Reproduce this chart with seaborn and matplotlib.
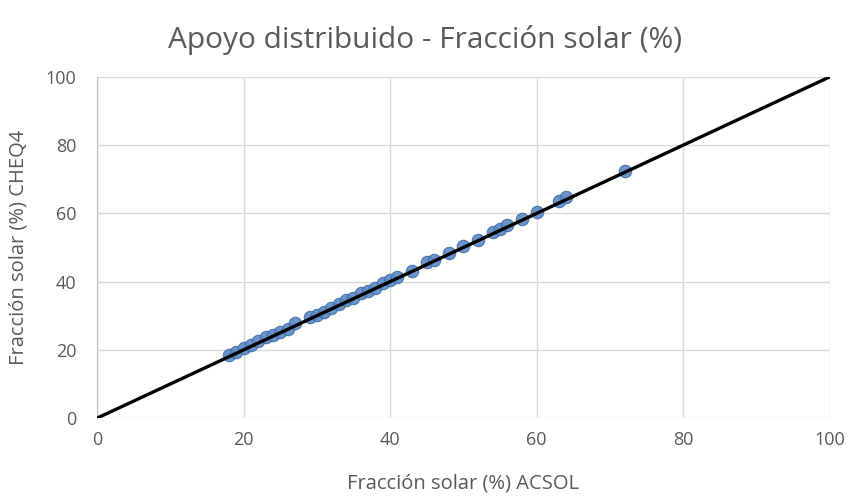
import numpy as np
import pandas as pd
import seaborn as sns
import matplotlib.pyplot as plt

# values
acsol = [18, 19, 20, 21, 22, 23, 24, 25, 26, 27, 29, 30, 31, 32, 33, 34, 35,
         36, 37, 38, 39, 40, 41, 43, 45, 46, 48, 50, 52, 54, 55, 56, 58, 60,
         63, 64, 72]
cheq4 = [18.5, 19.5, 20.5, 21.5, 22.5, 23.8, 24.5, 25.3, 26.2, 27.8, 29.5, 30.3,
         31.2, 32.3, 33.5, 34.6, 35.2, 36.8, 37.3, 38.2, 39.5, 40.6, 41.4, 43.2,
         45.8, 46.2, 48.5, 50.3, 52.2, 54.5, 55.5, 56.5, 58.3, 60.3, 63.5, 64.8,
         72.5]
ref_x = [0, 100]
ref_y = [0, 100]
ticks = [0, 20, 40, 60, 80, 100]

pts = pd.DataFrame({"ACSOL": acsol, "CHEQ4": cheq4})
ref = pd.DataFrame({"x": ref_x, "y": ref_y})

sns.set_style("white")
plt.rcParams['font.family'] = ['Open Sans', 'DejaVu Sans']
txt = "#595959"

fig = plt.figure(figsize=(8.51, 4.96), dpi=100)
ax = fig.add_axes([0.114, 0.157, 0.861, 0.688])

sns.scatterplot(data=pts, x="ACSOL", y="CHEQ4", ax=ax, s=80, color="#5b8ac6",
                edgecolor="#3f6ea8", linewidth=0.8, alpha=0.9, zorder=3)
sns.lineplot(data=ref, x="x", y="y", ax=ax, color="black", linewidth=2.4, zorder=4)

ax.set(xlim=(0, 100), ylim=(0, 100), xticks=ticks, yticks=ticks)
ax.grid(True, color="#d9d9d9", linewidth=1)
ax.set_axisbelow(True)
for s in ["top", "right", "bottom"]:
    ax.spines[s].set_visible(False)
ax.spines["left"].set_color("#bfbfbf")
ax.tick_params(axis="both", length=0, labelsize=13, colors=txt)
ax.tick_params(axis="x", pad=9)
ax.tick_params(axis="y", pad=15)
ax.set_xlabel("Fracción solar (%) ACSOL", fontsize=14.5, color=txt, labelpad=18)
ax.set_ylabel("Fracción solar (%) CHEQ4", fontsize=14.5, color=txt, labelpad=12)
fig.suptitle("Apoyo distribuido - Fracción solar (%)", fontsize=21.5, color=txt, y=0.95)

fig.savefig("out.png", dpi=100)
